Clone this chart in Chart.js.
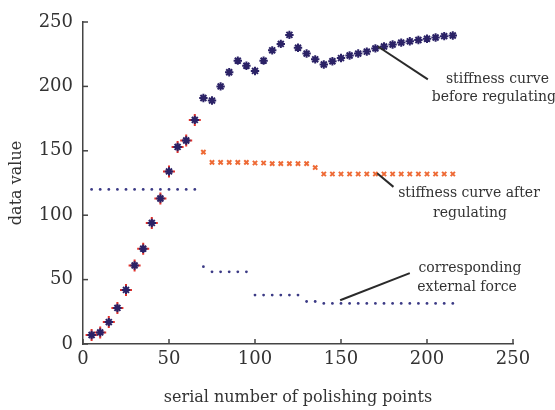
<!DOCTYPE html>
<html>
<head>
<meta charset="utf-8">
<script src="https://cdn.jsdelivr.net/npm/chart.js@4"></script>
<style>
  html, body { margin: 0; padding: 0; background: #fff; }
  #wrap { width: 555px; height: 410px; }
</style>
</head>
<body>
<div id="wrap"><canvas id="stiffChart" width="555" height="410"></canvas></div>
<script>
// stiffness before regulating
const beforeX = [5, 10, 15, 20, 25, 30, 35, 40, 45, 50, 55, 60, 65, 70, 75, 80, 85, 90, 95, 100,
  105, 110, 115, 120, 125, 130, 135, 140, 145, 150, 155, 160, 165, 170, 175, 180, 185, 190, 195, 200,
  205, 210, 215];
const beforeY = [7, 9, 17, 28, 42, 61, 74, 94, 113, 134, 153, 158, 174, 191, 189, 200, 211, 220, 216, 212,
  220, 228, 233, 240, 230, 225.5, 221, 217, 219.5, 222, 224, 225.5, 227, 229.5, 231, 232.5, 234, 235, 236, 237,
  238, 239, 239.5];

// stiffness after regulating
const afterX = [5, 10, 15, 20, 25, 30, 35, 40, 45, 50, 55, 60, 65, 70, 75, 80, 85, 90, 95, 100,
  105, 110, 115, 120, 125, 130, 135, 140, 145, 150, 155, 160, 165, 170, 175, 180, 185, 190, 195, 200,
  205, 210, 215];
const afterY = [7, 9, 17, 28, 42, 61, 74, 94, 113, 134, 153, 158, 174, 149, 141, 141, 141, 141, 141, 140.5,
  140.5, 140, 140, 140, 140, 140, 137, 132, 132, 132, 132, 132, 132, 132, 132, 132, 132, 132, 132, 132,
  132, 132, 132];

// corresponding external force
const forceX = [5, 10, 15, 20, 25, 30, 35, 40, 45, 50, 55, 60, 65, 70, 75, 80, 85, 90, 95, 100,
  105, 110, 115, 120, 125, 130, 135, 140, 145, 150, 155, 160, 165, 170, 175, 180, 185, 190, 195, 200,
  205, 210, 215];
const forceY = [120, 120, 120, 120, 120, 120, 120, 120, 120, 120, 120, 120, 120, 60, 56, 56, 56, 56, 56, 38,
  38, 38, 38, 38, 38, 33, 33, 31.5, 31.5, 31.5, 31.5, 31.5, 31.5, 31.5, 31.5, 31.5, 31.5, 31.5, 31.5, 31.5,
  31.5, 31.5, 31.5];

const axisTicks = [0, 50, 100, 150, 200, 250];

const toPoints = (xs, ys) => xs.map((x, i) => ({ x: x, y: ys[i] }));

const serif = "'DejaVu Serif', 'Liberation Serif', serif";
const ink = "#333";

// annotation leader lines in data units
const leaders = [
  [171.5, 231, 200.5, 205.5],
  [171, 132.5, 180.5, 122],
  [149.5, 34, 190, 55],
];
const notes = [
  { text: "stiffness curve", x: 549, y: 79, align: "right" },
  { text: "before regulating", x: 556, y: 97, align: "right" },
  { text: "stiffness curve after", x: 469, y: 193, align: "center" },
  { text: "regulating", x: 470, y: 213, align: "center" },
  { text: "corresponding", x: 470, y: 268, align: "center" },
  { text: "external force", x: 467, y: 287, align: "center" },
];

const extras = {
  id: "extras",
  afterDraw(chart) {
    const c = chart.ctx;
    const xs = chart.scales.x, ys = chart.scales.y;
    c.save();
    // inward tick marks
    c.strokeStyle = "#444";
    c.lineWidth = 1.5;
    axisTicks.forEach((t) => {
      const px = xs.getPixelForValue(t);
      c.beginPath();
      c.moveTo(px, ys.bottom);
      c.lineTo(px, ys.bottom - 5);
      c.stroke();
      const py = ys.getPixelForValue(t);
      c.beginPath();
      c.moveTo(xs.left, py);
      c.lineTo(xs.left + 5, py);
      c.stroke();
    });
    // leader lines
    c.strokeStyle = "#2a2a2a";
    c.lineWidth = 2;
    leaders.forEach((l) => {
      c.beginPath();
      c.moveTo(xs.getPixelForValue(l[0]), ys.getPixelForValue(l[1]));
      c.lineTo(xs.getPixelForValue(l[2]), ys.getPixelForValue(l[3]));
      c.stroke();
    });
    // labels
    c.fillStyle = ink;
    c.font = "14px " + serif;
    c.textBaseline = "middle";
    notes.forEach((n) => {
      c.textAlign = n.align;
      c.fillText(n.text, n.x, n.y);
    });
    c.restore();
  },
};

new Chart(document.getElementById("stiffChart"), {
  type: "scatter",
  data: {
    datasets: [
      {
        label: "stiffness curve before regulating",
        data: toPoints(beforeX, beforeY),
        pointStyle: "star",
        radius: 4.2,
        borderWidth: 2,
        borderColor: "#2b2266",
        backgroundColor: "#2b2266",
      },
      {
        label: "stiffness curve after regulating",
        data: toPoints(afterX, afterY),
        pointStyle: (ctx) => (ctx.raw && ctx.raw.x < 70 ? "cross" : "crossRot"),
        radius: (ctx) => (ctx.raw && ctx.raw.x < 70 ? 6 : 3),
        borderWidth: 2,
        borderColor: (ctx) => (ctx.raw && ctx.raw.x < 70 ? "#e0302a" : "#ee6a35"),
        backgroundColor: "#ee6a35",
      },
      {
        label: "corresponding external force",
        data: toPoints(forceX, forceY),
        pointStyle: "circle",
        radius: 1.4,
        borderWidth: 0,
        backgroundColor: "#3b3a85",
      },
    ],
  },
  options: {
    responsive: false,
    animation: false,
    events: [],
    layout: { padding: { top: 22, right: 42, left: 0, bottom: 0 } },
    scales: {
      x: {
        type: "linear",
        min: 0,
        max: 250,
        afterFit: (s) => { s.height = 66; },
        afterBuildTicks: (s) => { s.ticks = axisTicks.map((v) => ({ value: v })); },
        grid: { display: false, drawTicks: false },
        border: { display: true, color: "#444", width: 1.5 },
        ticks: { color: ink, font: { family: serif, size: 18 }, padding: 5, maxRotation: 0 },
        title: {
          display: true,
          text: "serial number of polishing points",
          color: ink,
          font: { family: serif, size: 16 },
          padding: { top: 0, bottom: 3 },
        },
      },
      y: {
        type: "linear",
        min: 0,
        max: 250,
        afterFit: (s) => { s.width = 83; },
        afterBuildTicks: (s) => { s.ticks = axisTicks.map((v) => ({ value: v })); },
        grid: { display: false, drawTicks: false },
        border: { display: true, color: "#444", width: 1.5 },
        ticks: { color: ink, font: { family: serif, size: 18 }, padding: 10 },
        title: {
          display: true,
          text: "data value",
          color: ink,
          font: { family: serif, size: 16 },
          padding: { top: 7, bottom: 0 },
        },
      },
    },
    plugins: {
      legend: { display: false },
      tooltip: { enabled: false },
    },
  },
  plugins: [extras],
});
</script>
</body>
</html>
